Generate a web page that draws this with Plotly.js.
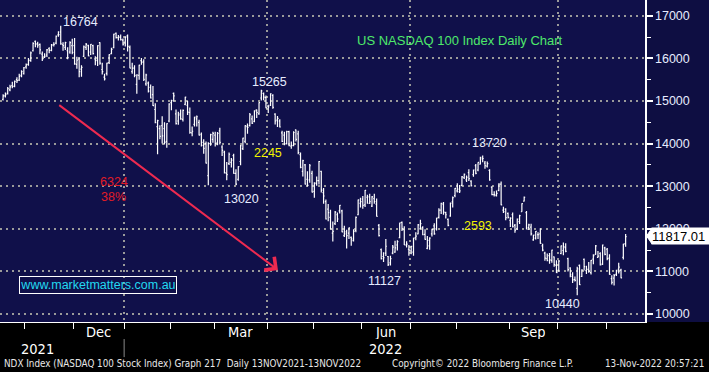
<!DOCTYPE html>
<html><head><meta charset="utf-8">
<script src="https://cdn.plot.ly/plotly-3.0.1.min.js"></script>
<style>html,body{margin:0;padding:0;background:#000;overflow:hidden}#chart{width:709px;height:372px}</style>
</head><body><div id="chart"></div>
<script>
// Daily bars, 18-Oct-2021 .. 11-Nov-2022 (trading days)
const openPx = [
15040,15120,15180,15260,15360,15350,15500,15490,15600,15640,
15800,15860,15950,16180,16400,16350,16330,16100,16040,16080,
16230,16190,16320,16360,16550,16620,16320,16260,16180,16150,
16300,16300,15860,15980,15750,16050,16260,16300,16150,16300,
15990,15960,16370,15740,15560,15650,15900,16110,16250,16590,
16490,16500,16430,16380,16530,16260,15690,15770,15390,15600,
15950,15920,15400,15420,15320,15150,14800,14400,14350,14420,
14350,14050,14530,14960,15180,14700,14530,14700,14570,14920,
14900,14730,14250,14450,14580,14500,14220,13960,14000,13250,
14000,14100,14200,14020,14300,13920,13800,13300,13530,13560,
13720,13300,13160,13580,13880,14050,14400,14420,14580,14520,
14790,14700,15070,15180,15080,14880,14900,15130,14690,14550,
14530,14250,14200,14000,14280,13940,13950,14320,14230,13740,
13350,13500,13160,13150,13300,12880,13060,13130,13350,12850,
12640,12460,12270,11900,12120,12330,12420,12420,11840,11930,
11900,11800,11720,11960,12330,12600,12700,12560,12740,12750,
12530,12710,12580,12080,11510,11350,11430,11350,11200,11430,
11450,11620,11790,12150,11980,11620,11520,11480,11450,11790,
11880,12000,12030,11870,11540,11600,11880,12070,12000,12270,
12440,12580,12380,12220,12300,12630,12780,12890,12870,13020,
13200,13150,13320,13120,13270,13480,13380,13520,13640,13540,
13470,13370,12980,12800,12780,12900,13050,12440,12460,12360,
12200,12330,12080,12000,12170,12400,12650,12380,12030,12040,
11740,11780,11860,11880,11600,11430,11300,11370,11260,11340,
11140,11030,11420,11490,11560,11300,11080,10880,10810,10600,
11140,10880,11280,11020,11050,10970,11290,11400,11330,11420,
11170,11550,11520,11310,10830,10840,10930,11050,11030,11330,
11650];
const highPx = [
15160,15200,15330,15380,15450,15480,15560,15640,15720,15800,
15880,16010,16160,16380,16420,16390,16350,16160,16120,16220,
16260,16340,16380,16540,16640,16764,16380,16390,16260,16400,
16460,16480,16040,16020,15840,16300,16360,16320,16340,16320,
16050,16310,16380,15900,15640,15900,16100,16250,16580,16610,
16550,16560,16470,16520,16560,16300,15900,15840,15630,15850,
16010,15980,15640,15460,15390,15350,14950,14560,14430,14640,
14500,14480,14950,15030,15200,14800,14750,14800,14800,15100,
15000,14850,14400,14630,14660,14560,14260,14100,14050,14030,
14230,14280,14280,14270,14370,13960,13830,13570,13790,13660,
13760,13400,13470,13970,14140,14430,14470,14720,14660,14780,
14800,14970,15265,15200,15130,14910,15180,15160,14710,14650,
14570,14300,14280,14300,14300,14050,14290,14330,14300,13790,
13620,13520,13350,13520,13360,13090,13230,13590,13360,12960,
12690,12580,12450,12170,12420,12380,12560,12450,12070,11980,
12030,11820,11990,12290,12690,12730,12770,12910,12800,12820,
12770,12820,12710,12110,11540,11450,11760,11360,11370,11620,
11720,11730,12140,12170,12060,11710,11620,11600,11790,11920,
12110,12210,12060,11990,11830,11800,12000,12130,12260,12480,
12610,12630,12400,12240,12620,12760,12960,13070,13030,13240,
13300,13250,13400,13140,13390,13520,13560,13690,13720,13590,
13580,13400,13000,12880,12900,13070,13110,12520,12480,12380,
12270,12380,12110,12240,12330,12600,12760,12420,12120,12120,
11860,11950,11920,12010,11650,11460,11420,11430,11510,11350,
11260,11270,11610,11680,11660,11320,11100,10980,10880,11110,
11160,11050,11300,11130,11220,11270,11400,11620,11480,11450,
11630,11580,11550,11400,10910,10940,11040,11200,11060,11650,
11880];
const lowPx = [
15010,15080,15150,15230,15300,15320,15420,15470,15560,15620,
15760,15830,15920,16160,16260,16250,16100,15940,16010,16030,
16120,16170,16280,16330,16510,16320,16180,16200,15980,16110,
16100,15850,15760,15560,15570,16030,16200,16050,16080,16090,
15840,15820,15850,15620,15480,15600,15870,16100,16240,16470,
16420,16420,16300,16280,16160,15770,15640,15560,15170,15500,
15850,15470,15360,15200,15060,14880,14480,13750,14100,14000,
13980,13900,14500,14780,14980,14450,14440,14560,14520,14900,
14670,14230,14170,14400,14400,14190,13930,13760,13530,13020,
13950,14020,13930,13960,13980,13710,13300,13140,13500,13440,
13290,13020,13130,13490,13850,14010,14230,14400,14460,14500,
14600,14680,15010,15020,14830,14720,14880,14820,14450,14390,
14380,14040,13960,13980,13940,13880,13940,14050,13750,13420,
13230,13040,12990,13080,12850,12730,13010,13040,12850,12590,
12220,12180,11990,11700,12090,12160,12360,11920,11810,11540,
11760,11600,11700,11920,12320,12500,12470,12510,12590,12580,
12510,12590,12290,11820,11280,11220,11360,11127,11140,11400,
11440,11490,11780,11950,11620,11560,11370,11400,11370,11730,
11870,11990,11850,11740,11520,11510,11820,11860,11960,12240,
12350,12330,12240,12060,12280,12500,12740,12850,12840,13000,
13170,13100,13120,12990,13220,13280,13350,13510,13560,13410,
13440,13130,12790,12760,12760,12880,12550,12370,12200,12240,
12040,12030,11910,11970,12110,12400,12640,11990,11970,11840,
11720,11750,11760,11650,11470,11250,11240,11180,11200,11110,
10960,10990,11400,11380,11450,11000,10860,10730,10760,10440,
10680,10870,11020,10940,10970,10930,11170,11390,11320,11140,
11150,11380,11260,10920,10690,10670,10890,10950,10840,11280,
11580];
const closePx = [
15120,15150,15290,15330,15340,15460,15480,15580,15690,15780,
15850,15960,16130,16350,16330,16310,16200,15990,16050,16200,
16190,16310,16330,16520,16560,16340,16300,16370,16020,16370,
16140,15870,15960,15690,15790,16270,16330,16060,16330,16110,
15950,16300,15890,15690,15520,15890,16090,16210,16570,16490,
16500,16440,16320,16500,16280,15770,15770,15600,15610,15840,
15910,15510,15610,15230,15070,14890,14490,14540,14170,14180,
14030,14470,14930,15010,15120,14470,14670,14580,14780,15090,
14740,14260,14290,14620,14630,14200,14030,13890,13540,14000,
14210,14240,14000,14240,14030,13840,13320,13270,13750,13610,
13300,13050,13460,13950,14130,14420,14380,14680,14480,14770,
14730,14960,15240,15090,14840,14860,15170,14850,14530,14590,
14390,14050,13990,14280,13950,13960,14260,14100,13790,13440,
13600,13050,13020,13480,12860,13080,13130,13580,12910,12770,
12230,12380,11990,11940,12390,12230,12550,11930,11880,11840,
12020,11760,11940,12270,12680,12640,12550,12900,12600,12640,
12750,12640,12290,11840,11300,11320,11590,11160,11300,11570,
11550,11700,12140,12000,11620,11640,11500,11590,11780,11830,
12090,12120,11860,11750,11730,11780,11980,11880,12250,12440,
12600,12390,12330,12080,12600,12730,12950,12930,12890,13220,
13280,13210,13180,13010,13380,13300,13560,13680,13650,13480,
13530,13150,12800,12800,12830,13050,12560,12400,12260,12270,
12250,12050,11970,12230,12310,12590,12740,11990,12090,11880,
11850,11940,11860,11660,11500,11310,11250,11270,11500,11160,
10970,11240,11600,11580,11470,11040,10920,10800,10790,11060,
10690,11030,11110,11050,11000,11260,11370,11600,11360,11150,
11620,11400,11300,10930,10740,10900,11010,11100,10850,11640,
11817.01];

const yTicks = [10000,11000,12000,13000,14000,15000,16000,17000];
const monthBounds = [9.5,30.5,52.5,72.5,91.5,114.5,134.5,155.5,176.5,196.5,219.5,240.5,261.5];
const quarterBounds = [52.5,114.5,176.5,240.5];
const monthLabels = ['Dec','Mar','Jun','Sep'];
const monthLabelPos = [41.5,103,166,230];
const yearLabels = ['2021','2022'];
const yearLabelPos = [15,166];
// swing labels: text, bar position, level
const swingText = ['16764','15265','13020','13720','11127','10440'];
const swingPos = [33.6,115.7,103.6,210.9,165.6,242.8];
const swingLevel = [16854,15446,12688,14014,10775,10235];
const moveText = ['2245','2593'];
const movePos = [114.9,205.9];
const moveLevel = [13779,12077];
const footerText = ['NDX Index (NASDAQ 100 Stock Index) Graph 217  Daily 13NOV2021-13NOV2022',
  'Copyright© 2022 Bloomberg Finance L.P.', '13-Nov-2022 20:57:21'];
const lastPrice = closePx[closePx.length-1];

const xIdx = closePx.map((_, i) => i);

const WHITE_TXT = '#e6ecff';
const SANS = 'Liberation Sans, Arial, sans-serif';
const NARROW = 'Liberation Sans Narrow, DejaVu Sans Condensed, Liberation Sans, Arial Narrow, sans-serif';

const trace = {
  type: 'ohlc', x: xIdx, open: openPx, high: highPx, low: lowPx, close: closePx,
  increasing: {line: {color: '#ffffff', width: 1.2}},
  decreasing: {line: {color: '#ffffff', width: 1.2}},
  tickwidth: 0.45, hoverinfo: 'skip', showlegend: false
};

const ann = [];
swingText.forEach((t, i) => ann.push({xref:'x', yref:'y', x: swingPos[i], y: swingLevel[i], text: t, showarrow:false,
  xanchor:'center', yanchor:'middle', font:{family:SANS, size:12.5, color:WHITE_TXT}}));
moveText.forEach((t, i) => ann.push({xref:'x', yref:'y', x: movePos[i], y: moveLevel[i], text: t, showarrow:false,
  xanchor:'center', yanchor:'middle', font:{family:SANS, size:12.5, color:'#f2f200'}}));
ann.push({xref:'x', yref:'y', x:48.1, y:13087, text:'6324', showarrow:false, xanchor:'center', font:{family:SANS,size:12.5,color:'#e01c26'}});
ann.push({xref:'x', yref:'y', x:47.9, y:12735, text:'38%', showarrow:false, xanchor:'center', font:{family:SANS,size:12.5,color:'#e01c26'}});
ann.push({xref:'paper', yref:'paper', x:460/645, y:1-41/322, xanchor:'center', yanchor:'middle', text:'US NASDAQ 100 Index Daily Chart', showarrow:false,
  font:{family:SANS,size:13,color:'#4ee86a'}});
ann.push({xref:'paper', yref:'paper', x:98/645, y:1-284.5/322, xanchor:'center', yanchor:'middle', text:'www.marketmatters.com.au', showarrow:false,
  font:{family:SANS,size:12.5,color:'#22d8f0'}, bordercolor:'#ffffff', borderwidth:1, borderpad:0, width:156, height:16});
// red arrow
ann.push({xref:'x', yref:'y', axref:'x', ayref:'y', x:119.2, y:11033, ax:23.7, ay:14930, text:'', showarrow:true,
  arrowhead:4, arrowsize:1.6, arrowwidth:2, arrowcolor:'#ee2a50', standoff:0, startstandoff:0});
// month / year labels
monthLabels.forEach((t, i) => ann.push({xref:'x', yref:'paper', x: monthLabelPos[i], y: -0.028, xanchor:'center', yanchor:'middle', text:t, showarrow:false,
  height:15, font:{family:NARROW, size:14.5, color:'#ffffff'}}));
yearLabels.forEach((t, i) => ann.push({xref:'x', yref:'paper', x: yearLabelPos[i], y: -0.083, xanchor:'center', yanchor:'middle', text:t, showarrow:false,
  height:15, font:{family:NARROW, size:14.5, color:'#ffffff'}}));
// footer
ann.push({xref:'paper', yref:'paper', x:2/645, y:-0.130, xanchor:'left', yanchor:'middle', showarrow:false,
  text:footerText[0], font:{family:NARROW,size:9.8,color:'#e8e8e8'}});
ann.push({xref:'paper', yref:'paper', x:390/645, y:-0.130, xanchor:'left', yanchor:'middle', showarrow:false,
  text:footerText[1], font:{family:NARROW,size:9.8,color:'#e8e8e8'}});
ann.push({xref:'paper', yref:'paper', x:706/645, y:-0.130, xanchor:'right', yanchor:'middle', showarrow:false,
  text:footerText[2], font:{family:NARROW,size:9.8,color:'#e8e8e8'}});
// last price tag (white box above the axis labels)
ann.push({xref:'paper', yref:'y', x:651/645, y:lastPrice+14, xanchor:'left', yanchor:'middle', showarrow:false, text: lastPrice.toFixed(2),
  font:{family:SANS,size:13,color:'#000000'}, bgcolor:'#ffffff', width:58, height:16, borderpad:0, align:'left'});

const shapes = [
  {type:'rect', xref:'paper', yref:'paper', x0:1, x1:1.1, y0:0, y1:1, fillcolor:'#0e0e42', line:{width:0}, layer:'below'},
  {type:'line', xref:'x', yref:'paper', x0:quarterBounds[0], x1:quarterBounds[0], y0:-0.053, y1:-0.109, line:{color:'#8a8a8a', width:1}},
  {type:'path', xref:'paper', yref:'y', layer:'above',
   path:`M ${646.5/645},${lastPrice+14} L ${652/645},${lastPrice+200} L ${652/645},${lastPrice-172} Z`,
   fillcolor:'#ffffff', line:{color:'#ffffff', width:1}}
];

const layout = {
  width:709, height:372,
  margin:{l:0, r:64, t:0, b:50, autoexpand:false},
  paper_bgcolor:'#000000', plot_bgcolor:'#10104a',
  showlegend:false,
  xaxis:{
    range:[-1.34, 278.4], fixedrange:true, rangeslider:{visible:false},
    tickmode:'array', tickvals:quarterBounds, showticklabels:false,
    ticks:'outside', ticklen:6, tickwidth:1, tickcolor:'#ffffff',
    showgrid:true, gridcolor:'#9a9a9a', gridwidth:2, griddash:'2px,4px',
    minor:{tickmode:'array', tickvals:monthBounds, ticks:'outside', ticklen:6, tickwidth:1, tickcolor:'#ffffff', showgrid:false},
    showline:true, linecolor:'#ffffff', linewidth:1, zeroline:false
  },
  yaxis:{
    range:[9812, 17371], side:'right', fixedrange:true,
    tickmode:'array', tickvals:yTicks, ticktext:yTicks.map(String),
    ticks:'outside', ticklen:6, tickwidth:2, tickcolor:'#ffffff',
    tickfont:{family:SANS, size:12.5, color:WHITE_TXT},
    showgrid:true, gridcolor:'#9a9a9a', gridwidth:2, griddash:'2px,4px',
    minor:{dtick:500, ticks:'outside', ticklen:4, tickwidth:1, tickcolor:'#ffffff', showgrid:false},
    showline:true, linecolor:'#ffffff', linewidth:1.5, zeroline:false
  },
  annotations: ann, shapes: shapes
};

Plotly.newPlot('chart', [trace], layout, {staticPlot:true, displayModeBar:false});
</script></body></html>
